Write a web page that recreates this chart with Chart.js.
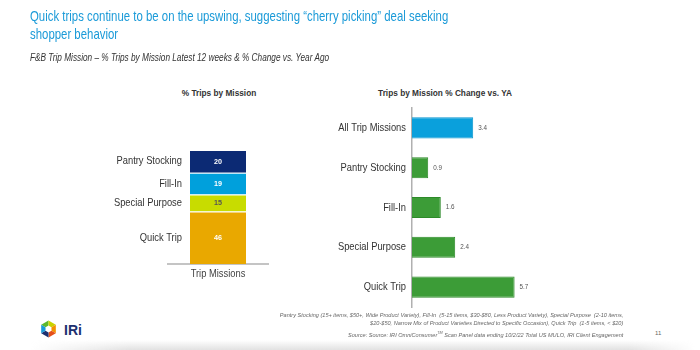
<!DOCTYPE html>
<html>
<head>
<meta charset="utf-8">
<script src="https://cdn.jsdelivr.net/npm/chart.js@4.4.1/dist/chart.umd.min.js"></script>
<style>
  html, body { margin: 0; padding: 0; background: #fff; }
  body { width: 700px; height: 350px; position: relative; overflow: hidden;
         font-family: "Liberation Sans", Arial, sans-serif; }
  .abs { position: absolute; white-space: nowrap; transform-origin: 0 0; }
  #title { left: 30px; top: 7px; font-size: 15px; line-height: 18px; color: #1a9ad8; transform: scaleX(0.76); }
  #subtitle { left: 30px; top: 52px; font-size: 11px; line-height: 11px; font-style: italic; color: #333; transform: scaleX(0.75); }
  .ctitle { font-size: 9px; font-weight: bold; color: #333; line-height: 9px; transform: translateX(-50%) scaleX(0.92); transform-origin: 50% 0; }
  #notes { right: 77px; top: 311px; font-size: 6px; line-height: 8px; font-style: italic; color: #666; text-align: right;
           transform: scaleX(0.93); transform-origin: 100% 0; }
  #page { left: 655px; top: 330px; font-size: 6px; color: #666; }
  #shade { left: 30px; top: 340px; width: 665px; height: 10px;
           background: linear-gradient(to bottom, rgba(255,255,255,0), rgba(190,190,190,0.45));
           -webkit-mask-image: linear-gradient(to right, transparent, #000 15%, #000 90%, transparent); }
  canvas { position: absolute; }
</style>
</head>
<body>
<div id="shade" class="abs"></div>
<div id="title" class="abs">Quick trips continue to be on the upswing, suggesting “cherry picking” deal seeking<br>shopper behavior</div>
<div id="subtitle" class="abs">F&amp;B Trip Mission – % Trips by Mission Latest 12 weeks &amp; % Change vs. Year Ago</div>
<div class="abs ctitle" style="left:219px; top:89px;">% Trips by Mission</div>
<div class="abs ctitle" style="left:445px; top:89px;">Trips by Mission % Change vs. YA</div>
<canvas id="left" width="220" height="210" style="left:90px; top:80px;"></canvas>
<canvas id="right" width="250" height="230" style="left:320px; top:80px;"></canvas>
<div id="notes" class="abs">Pantry Stocking (15+ items, $50+, Wide Product Variety), Fill-In&nbsp; (5-15 items, $30-$80, Less Product Variety), Special Purpose&nbsp; (2-10 items,<br>$20-$50, Narrow Mix of Product Varieties Directed to Specific Occasion), Quick Trip&nbsp; (1-5 items, &lt; $20)<br><span style="line-height:11px">Source: Source: IRI OmniConsumer<sup style="font-size:4px">TM</sup> Scan Panel data ending 10/2/22 Total US MULO, IRI Client Engagement</span></div>
<div id="page" class="abs">11</div>
<svg class="abs" style="left:40px; top:320px;" width="17" height="18" viewBox="-8 -8.5 16 17">
  <polygon points="0,0 0,-8 -6.9,-4" fill="#5cb82e"/>
  <polygon points="0,0 6.9,-4 0,-8" fill="#c9d300"/>
  <polygon points="0,0 6.9,4 6.9,-4" fill="#f39200"/>
  <polygon points="0,0 0,8 6.9,4" fill="#e4501c"/>
  <polygon points="0,0 -6.9,4 0,8" fill="#1d2f6f"/>
  <polygon points="0,0 -6.9,-4 -6.9,4" fill="#1a9ad8"/>
  <polygon points="0,-3.2 2.8,-1.6 2.8,1.6 0,3.2 -2.8,1.6 -2.8,-1.6" fill="#fff"/>
</svg>
<div class="abs" style="left:64px; top:322px; font-weight:bold; font-size:14px; color:#1d2f6f;">IRi</div>

<script>
const FONT = '"Liberation Sans", Arial, sans-serif';
const SQUEEZE = 0.85; // the slide text is narrower than Arial

// % trips by mission (latest 12 weeks)
const missions = ['Pantry Stocking', 'Fill-In', 'Special Purpose', 'Quick Trip'];
const tripShare = [20, 19, 15, 46];
const shareColors = ['#0c2a74', '#00a0dc', '#c8dc00', '#e9a800'];
const shareText = ['#fff', '#fff', '#555', '#fff'];
const stackLabel = ['Trip Missions'];

// % change vs. year ago
const changeCats = ['All Trip Missions', 'Pantry Stocking', 'Fill-In', 'Special Purpose', 'Quick Trip'];
const changeVals = [3.4, 0.9, 1.6, 2.4, 5.7];
const changeColors = ['#0aa0dc', '#3c9c37', '#3c9c37', '#3c9c37', '#3c9c37'];
const changeBorders = ['#0a96cf', '#2d8a29', '#2d8a29', '#2d8a29', '#2d8a29'];

// stacked bar: first dataset sits at the bottom, so go bottom-up
const order = [3, 2, 1, 0];

function squeezed(ctx, text, x, y, align, k) {
  ctx.save();
  ctx.translate(x, y);
  ctx.scale(k, 1);
  ctx.textAlign = align;
  ctx.fillText(text, 0, 0);
  ctx.restore();
}

const stackLabels = {
  id: 'stackLabels',
  afterDatasetsDraw(chart) {
    const ctx = chart.ctx;
    ctx.save();
    ctx.textBaseline = 'middle';
    chart.data.datasets.forEach((ds, i) => {
      const bar = chart.getDatasetMeta(i).data[0];
      const cy = (bar.y + bar.base) / 2;
      ctx.font = 'bold 8px ' + FONT;
      ctx.fillStyle = ds.textColor;
      squeezed(ctx, ds.data[0], bar.x, cy, 'center', 0.9);
      ctx.font = '11px ' + FONT;
      ctx.fillStyle = '#333';
      squeezed(ctx, ds.label, bar.x - bar.width / 2 - 8, cy, 'right', SQUEEZE);
    });
    const xs = chart.scales.x;
    ctx.font = '11px ' + FONT;
    ctx.fillStyle = '#444';
    chart.data.labels.forEach((l, i) => {
      squeezed(ctx, l, xs.getPixelForValue(i), chart.chartArea.bottom + 10, 'center', SQUEEZE);
    });
    ctx.restore();
  }
};

new Chart(document.getElementById('left'), {
  type: 'bar',
  data: {
    labels: stackLabel,
    datasets: order.map(i => ({
      label: missions[i],
      data: [tripShare[i]],
      backgroundColor: shareColors[i],
      textColor: shareText[i],
      borderColor: '#fff',
      borderWidth: { top: 1 },
      borderSkipped: 'bottom',
      barPercentage: 0.56,
      categoryPercentage: 1
    }))
  },
  options: {
    responsive: false,
    animation: false,
    layout: { padding: { top: 70, left: 78, right: 42, bottom: 0 } },
    plugins: { legend: { display: false }, tooltip: { enabled: false } },
    scales: {
      x: {
        stacked: true,
        grid: { display: false, drawTicks: false },
        border: { color: '#c4c4c4', width: 2 },
        ticks: { display: false },
        afterFit: s => { s.height = 26; }
      },
      y: { stacked: true, display: false, min: 0, max: 100 }
    }
  },
  plugins: [stackLabels]
});

const valueLabels = {
  id: 'valueLabels',
  afterDatasetsDraw(chart) {
    const ctx = chart.ctx;
    ctx.save();
    ctx.textBaseline = 'middle';
    ctx.font = '7px ' + FONT;
    ctx.fillStyle = '#555';
    chart.getDatasetMeta(0).data.forEach((bar, i) => {
      squeezed(ctx, changeVals[i].toFixed(1), bar.x + 5, bar.y, 'left', 0.9);
    });
    const ys = chart.scales.y;
    ctx.font = '11px ' + FONT;
    ctx.fillStyle = '#333';
    chart.data.labels.forEach((l, i) => {
      squeezed(ctx, l, chart.chartArea.left - 6, ys.getPixelForValue(i), 'right', SQUEEZE);
    });
    ctx.restore();
  }
};

new Chart(document.getElementById('right'), {
  type: 'bar',
  data: {
    labels: changeCats,
    datasets: [{
      data: changeVals,
      backgroundColor: changeColors,
      borderColor: changeBorders,
      borderWidth: 1,
      barPercentage: 0.53,
      categoryPercentage: 1
    }]
  },
  options: {
    indexAxis: 'y',
    responsive: false,
    animation: false,
    layout: { padding: { top: 28, left: 0, right: 50, bottom: 3 } },
    plugins: { legend: { display: false }, tooltip: { enabled: false } },
    scales: {
      x: { display: false, min: 0, max: 6 },
      y: {
        grid: { display: false, drawTicks: false },
        border: { color: '#b0b0b0', width: 1.5 },
        ticks: { display: false },
        afterFit: s => { s.width = 92; }
      }
    }
  },
  plugins: [valueLabels]
});
</script>
</body>
</html>
